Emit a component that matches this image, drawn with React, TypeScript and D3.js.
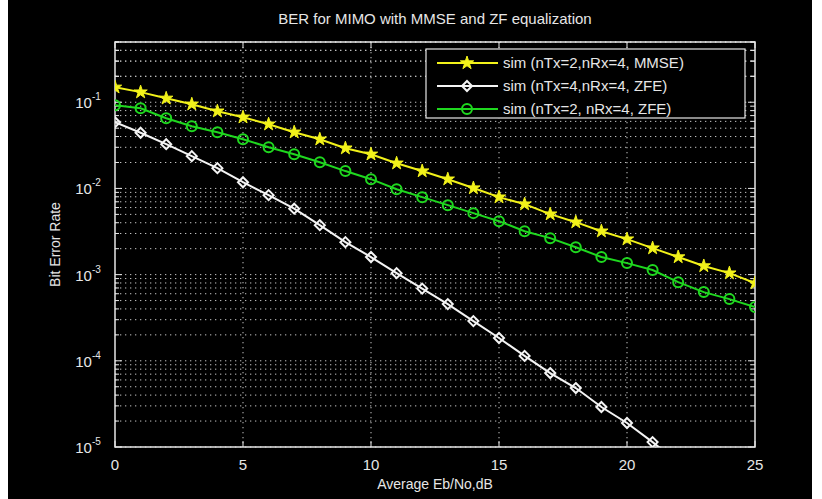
import React from "react";
import * as d3 from "d3";

const snr = d3.range(0, 26);

// sim (nTx=2,nRx=4, MMSE)
const berMmse = [
  0.149, 0.131, 0.111, 0.0948, 0.0787, 0.067, 0.0556, 0.0449, 0.0372, 0.0293,
  0.0249, 0.0196, 0.0159, 0.0128, 0.0101, 0.00792, 0.00657, 0.00503, 0.00406,
  0.00319, 0.00258, 0.00203, 0.0016, 0.00126, 0.00104, 0.000797,
];
// sim (nTx=4,nRx=4, ZFE)
const berZf44 = [
  0.0586, 0.0443, 0.0326, 0.0237, 0.0172, 0.0118, 0.00836, 0.00582, 0.00375,
  0.00238, 0.0016, 0.00104, 0.000688, 0.000455, 0.000289, 0.000184, 0.000114,
  7.21e-5, 4.83e-5, 2.91e-5, 1.9e-5, 1.14e-5, 6.6e-6, 4e-6, 2.4e-6, 1.4e-6,
];
// sim (nTx=2, nRx=4, ZFE)
const berZf24 = [
  0.0923, 0.0851, 0.0652, 0.0527, 0.0449, 0.0372, 0.0301, 0.0249, 0.0201,
  0.0159, 0.0128, 0.0098, 0.00792, 0.0064, 0.00517, 0.00417, 0.00319, 0.00265,
  0.00208, 0.0016, 0.00136, 0.00113, 0.000818, 0.000627, 0.00052, 0.00042,
];

const xTicks = [0, 5, 10, 15, 20, 25];
const yDecades = [-5, -4, -3, -2, -1];
const legendLabels = [
  "sim (nTx=2,nRx=4, MMSE)",
  "sim (nTx=4,nRx=4, ZFE)",
  "sim (nTx=2, nRx=4, ZFE)",
];

const W = 822;
const H = 499;
const L = 115, R = 755, T = 42, B = 447;
const FONT = "'Liberation Sans', Arial, Helvetica, sans-serif";
const AX = "#e6e6e6";
const GRID = "#c4c4c4";

const YELLOW = "#f2f21a";
const GREEN = "#1fd81f";
const WHITE = "#f4f4f4";

const x = d3.scaleLinear().domain([0, 25]).range([L, R]);
const y = d3.scaleLog().domain([1e-5, 0.5]).range([B, T]);

const starPath = d3.symbol().type(d3.symbolStar).size(55)()!;
const diamondPath = "M0,-5L5,0L0,5L-5,0Z";

function Marker({ kind, cx, cy }: { kind: string; cx: number; cy: number }) {
  if (kind === "star")
    return (
      <path
        d={starPath}
        transform={`translate(${cx},${cy})`}
        fill={YELLOW}
        stroke={YELLOW}
        strokeWidth={1}
      />
    );
  if (kind === "diamond")
    return (
      <path
        d={diamondPath}
        transform={`translate(${cx},${cy})`}
        fill="none"
        stroke={WHITE}
        strokeWidth={2}
      />
    );
  return <circle cx={cx} cy={cy} r={5} fill="none" stroke={GREEN} strokeWidth={2} />;
}

const series = [
  { data: berMmse, color: YELLOW, kind: "star" },
  { data: berZf44, color: WHITE, kind: "diamond" },
  { data: berZf24, color: GREEN, kind: "circle" },
];

export default function App() {
  const line = d3
    .line<number>()
    .x((_, i) => x(snr[i]))
    .y((d) => y(d));

  // log grid values
  const minor: number[] = [];
  yDecades.forEach((e) => {
    for (let k = 1; k <= 9; k++) {
      const v = k * Math.pow(10, e);
      if (v <= 0.5) minor.push(v);
    }
  });
  minor.push(0.2, 0.3, 0.4, 0.5);

  return (
    <svg
      width={W}
      height={H}
      style={{ position: "absolute", left: 0, top: 0, background: "#fff" }}
    >
      <rect x={8} y={0} width={804} height={H} fill="#000" />
      <defs>
        <clipPath id="plot">
          <rect x={L} y={T} width={R - L} height={B - T} />
        </clipPath>
      </defs>

      {/* grid */}
      <g stroke={GRID} strokeWidth={1} strokeDasharray="1.3,3.7">
        {minor.map((v, i) => (
          <line key={"h" + i} x1={L} x2={R} y1={y(v)} y2={y(v)} />
        ))}
        {xTicks.slice(1, -1).map((t) => (
          <line key={"v" + t} x1={x(t)} x2={x(t)} y1={T} y2={B} />
        ))}
      </g>

      {/* axes box */}
      <rect x={L} y={T} width={R - L} height={B - T} fill="none" stroke={AX} strokeWidth={1.5} />

      {/* ticks */}
      <g stroke={AX} strokeWidth={1}>
        {xTicks.map((t) => (
          <g key={"xt" + t}>
            <line x1={x(t)} x2={x(t)} y1={B} y2={B - 6} />
            <line x1={x(t)} x2={x(t)} y1={T} y2={T + 6} />
          </g>
        ))}
        {minor.map((v, i) => {
          const major = Math.abs(Math.log10(v) - Math.round(Math.log10(v))) < 1e-6;
          const len = major ? 7 : 4;
          return (
            <g key={"yt" + i}>
              <line x1={L} x2={L + len} y1={y(v)} y2={y(v)} />
              <line x1={R} x2={R - len} y1={y(v)} y2={y(v)} />
            </g>
          );
        })}
      </g>

      {/* tick labels */}
      <g fill={AX} fontFamily={FONT}>
        {xTicks.map((t) => (
          <text key={"xl" + t} x={x(t)} y={B + 23} fontSize={15} textAnchor="middle">
            {t}
          </text>
        ))}
        {yDecades.map((e) => (
          <text key={"yl" + e} x={L - 27} y={y(Math.pow(10, e)) + 6} fontSize={15} textAnchor="middle">
            10
            <tspan fontSize={10} dy={-8}>
              {e}
            </tspan>
          </text>
        ))}
      </g>

      {/* titles */}
      <text x={(L + R) / 2} y={24} fill={AX} fontFamily={FONT} fontSize={15} textAnchor="middle">
        BER for MIMO with MMSE and ZF equalization
      </text>
      <text x={(L + R) / 2} y={B + 42} fill={AX} fontFamily={FONT} fontSize={14} textAnchor="middle">
        Average Eb/No,dB
      </text>
      <text
        transform={`translate(60,${(T + B) / 2}) rotate(-90)`}
        fill={AX}
        fontFamily={FONT}
        fontSize={14}
        textAnchor="middle"
      >
        Bit Error Rate
      </text>

      {/* series */}
      <g clipPath="url(#plot)">
        {series.map((s, si) => (
          <g key={"s" + si}>
            <path d={line(s.data)!} fill="none" stroke={s.color} strokeWidth={2} />
            {s.data.map((v, i) =>
              v >= 1e-5 ? <Marker key={i} kind={s.kind} cx={x(snr[i])} cy={y(v)} /> : null
            )}
          </g>
        ))}
      </g>

      {/* legend */}
      <g>
        <rect x={426} y={49} width={319} height={69} fill="#000" stroke={AX} strokeWidth={1.2} />
        {series.map((s, i) => {
          const ly = 63 + i * 23;
          return (
            <g key={"lg" + i}>
              <line x1={437} x2={498} y1={ly} y2={ly} stroke={s.color} strokeWidth={2} />
              <Marker kind={s.kind} cx={467} cy={ly} />
              <text x={503} y={ly + 5} fill={AX} fontFamily={FONT} fontSize={15}>
                {legendLabels[i]}
              </text>
            </g>
          );
        })}
      </g>
    </svg>
  );
}
